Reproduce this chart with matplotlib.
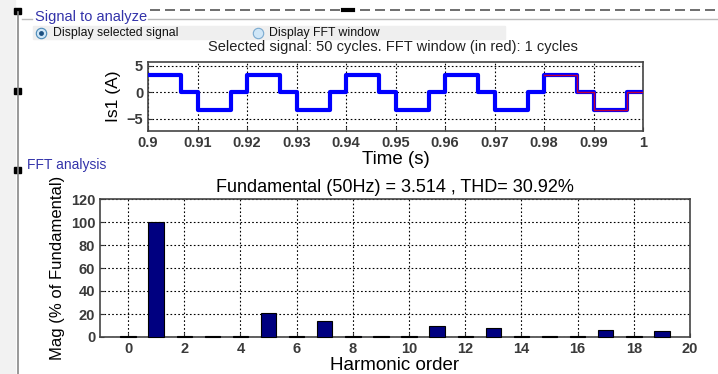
import numpy as np
import matplotlib
matplotlib.use('Agg')
import matplotlib.pyplot as plt
from matplotlib.lines import Line2D
from matplotlib.patches import Rectangle

plt.rcParams['font.family'] = ['Liberation Sans', 'DejaVu Sans']

W, H = 718, 374

# signal: one cycle of the quasi-square current, repeated over the window
cycle_edges = [0.0, 0.00667, 0.010, 0.01667]   # s, switching instants in a cycle
cycle_levels = [3.3, 0.0, -3.3, 0.0]            # A
n_cycles = 5
t_start = 0.9
period = 0.02

# FFT result
harmonics = list(range(0, 20))
mags = [0.6, 100, 0.6, 0.6, 0.6, 20.8, 0.6, 14.2, 0.6, 0.6,
        0.6, 9.6, 0.6, 8.0, 0.6, 0.6, 0.6, 6.0, 0.6, 5.1]

top_xticks = [0.9, 0.91, 0.92, 0.93, 0.94, 0.95, 0.96, 0.97, 0.98, 0.99, 1.0]
top_xticklabels = ['0.9', '0.91', '0.92', '0.93', '0.94', '0.95', '0.96', '0.97', '0.98', '0.99', '1']
top_yticks = [-5, 0, 5]
fft_xticks = [0, 2, 4, 6, 8, 10, 12, 14, 16, 18, 20]
fft_yticks = [0, 20, 40, 60, 80, 100, 120]


def fx(x):
    return x / W


def fy(y):
    return 1 - y / H


def px_axes(left, top, right, bottom):
    return [fx(left), fy(bottom), (right - left) / W, (bottom - top) / H]


fig = plt.figure(figsize=(W / 100, H / 100), dpi=100)
fig.patch.set_facecolor('white')

# ---- GUI decorations ----
fig.add_artist(Line2D([fx(150), fx(718)], [fy(10), fy(10)], color='#555555', lw=1.2,
                      linestyle=(0, (6, 3))))
fig.add_artist(Line2D([fx(148), fx(718)], [fy(19), fy(19)], color='#bbbbbb', lw=1))
fig.add_artist(Line2D([fx(22), fx(32)], [fy(19), fy(19)], color='#bbbbbb', lw=1))
fig.add_artist(Line2D([fx(18), fx(18)], [fy(12), fy(374)], color='#888888', lw=1.2))
fig.add_artist(Rectangle((0, 0), fx(15), 1, color='#f2f2f2', zorder=-1))
for yy in [11, 91, 170]:
    fig.add_artist(Rectangle((fx(14), fy(yy + 3)), fx(7), 6 / H, color='black'))
fig.add_artist(Line2D([fx(343), fx(353)], [fy(10), fy(10)], color='black', lw=3))

fig.text(fx(35), fy(17), 'Signal to analyze', color='#3333aa', fontsize=10.5, va='center')
fig.add_artist(Rectangle((fx(33), fy(39)), fx(472), 13 / H, color='#efefef', zorder=0))
fig.add_artist(Line2D([fx(41)], [fy(33)], marker='o', markersize=7.5, markerfacecolor='#cfe6f7',
                      markeredgecolor='#4a8ab8', markeredgewidth=0.8))
fig.add_artist(Line2D([fx(41)], [fy(33)], marker='o', markersize=3.5, markerfacecolor='#1a4f80',
                      markeredgecolor='none'))
fig.text(fx(53), fy(33), 'Display selected signal', fontsize=8.8, va='center', color='#111111')
fig.add_artist(Line2D([fx(258)], [fy(33)], marker='o', markersize=7.5, markerfacecolor='#cfe6f7',
                      markeredgecolor='#7aaad0', markeredgewidth=0.8))
fig.text(fx(269), fy(33), 'Display FFT window', fontsize=8.8, va='center', color='#111111')
fig.text(fx(393), fy(47), 'Selected signal: 50 cycles. FFT window (in red): 1 cycles',
         fontsize=10.5, ha='center', va='center', color='#222222')

fig.text(fx(27), fy(165), 'FFT analysis', color='#3333aa', fontsize=10, va='center')

# ---- time signal ----
t = []
v = []
for k in range(n_cycles):
    for e, lv in zip(cycle_edges, cycle_levels):
        t.append(t_start + k * period + e)
        v.append(lv)
t.append(t_start + n_cycles * period)
v.append(cycle_levels[-1])
t = np.array(t)
v = np.array(v)

ax1 = fig.add_axes(px_axes(148, 62, 643, 131))
ax1.plot(t, v, drawstyle='steps-post', color='#0000ff', lw=3, zorder=3)
win = t >= 0.98 - 1e-9
ax1.plot(t[win], v[win], drawstyle='steps-post', color='#c0003a', lw=1, zorder=4)
ax1.set_xlim(0.9, 1.0)
ax1.set_ylim(-7.3, 5.7)
ax1.set_xticks(top_xticks)
ax1.set_xticklabels(top_xticklabels)
ax1.set_yticks(top_yticks)
ax1.set_ylabel('Is1 (A)', fontsize=12.5, labelpad=4)
ax1.set_xlabel('Time (s)', fontsize=13.5, labelpad=1)

# ---- FFT bars ----
ax2 = fig.add_axes(px_axes(100, 199, 690, 337))
ax2.bar(harmonics, mags, width=0.55, color='#000080', edgecolor='black', lw=0.8, zorder=5,
        clip_on=False)
ax2.set_xlim(-1, 20)
ax2.set_ylim(0, 120)
ax2.set_xticks(fft_xticks)
ax2.set_yticks(fft_yticks)
ax2.set_title('Fundamental (50Hz) = 3.514 , THD= 30.92%', fontsize=13, pad=5)
ax2.set_ylabel('Mag (% of Fundamental)', fontsize=12, labelpad=4)
ax2.set_xlabel('Harmonic order', fontsize=13.5, labelpad=1)

for ax in (ax1, ax2):
    ax.grid(True, color='black', linestyle=(0, (1.5, 2)), lw=0.8)
    ax.set_axisbelow(True)
    ax.tick_params(direction='in', length=3, labelsize=10.5, colors='#333333', labelcolor='#3a3a3a')
    for lab in ax.get_xticklabels() + ax.get_yticklabels():
        lab.set_fontweight('bold')
    for s in ax.spines.values():
        s.set_color('#444444')
        s.set_linewidth(1.2)

fig.savefig('out.png', dpi=100)
